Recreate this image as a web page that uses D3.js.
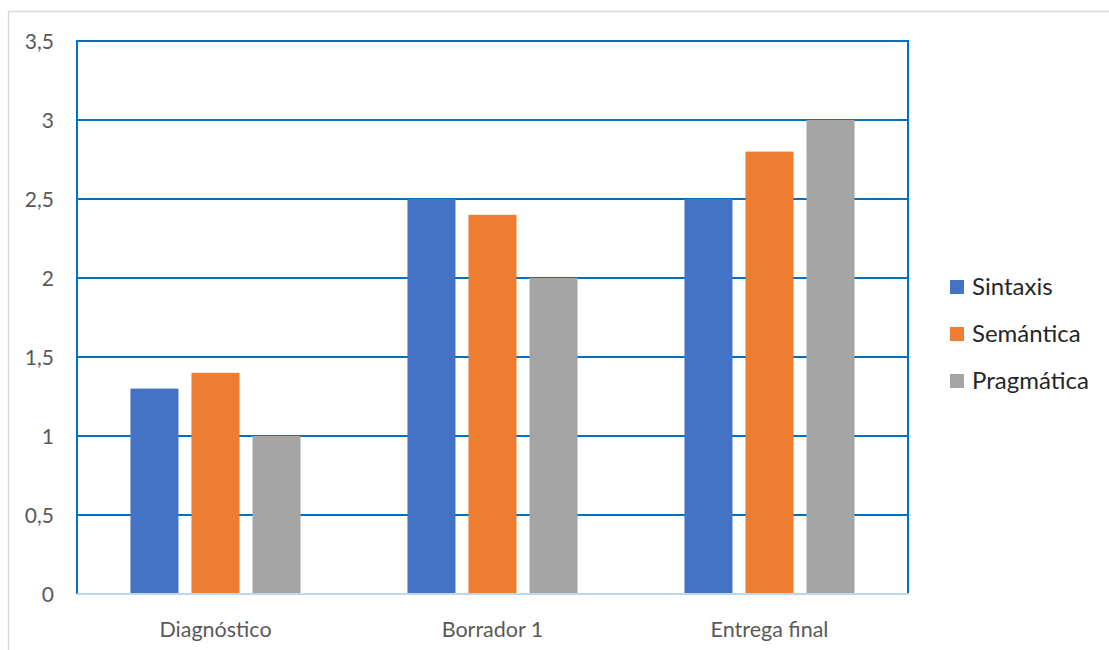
<!DOCTYPE html>
<html><head><meta charset="utf-8">
<script src="https://cdn.jsdelivr.net/npm/d3@7"></script>
<style>body{margin:0;background:#fff;} svg{display:block;font-family:Lato,"Open Sans",sans-serif;}</style>
</head><body>
<svg id="c" width="1109" height="650"></svg>
<script>
const categories = ["Diagnóstico", "Borrador 1", "Entrega final"];
const seriesNames = ["Sintaxis", "Semántica", "Pragmática"];
const sintaxis = [1.3, 2.5, 2.5];
const semantica = [1.4, 2.4, 2.8];
const pragmatica = [1.0, 2.0, 3.0];
const yTicks = [0, 0.5, 1, 1.5, 2, 2.5, 3, 3.5];
const colors = ["#4472C4", "#ED7D31", "#A5A5A5"];

const seriesValues = [sintaxis, semantica, pragmatica];
const svg = d3.select("#c");
const L = 77, R = 908, T = 41, B = 594;

svg.append("rect").attr("x", 8.5).attr("y", 11.5).attr("width", 1120).attr("height", 700)
  .attr("fill", "none").attr("stroke", "#d9d9d9").attr("stroke-width", 1.5);

const x0 = d3.scaleBand().domain(categories).range([L, R]).paddingInner(0).paddingOuter(0);
const bw = x0.bandwidth();
const x1 = d3.scaleBand().domain(seriesNames).range([bw * 0.193, bw * 0.807]).paddingInner(0.213).paddingOuter(0);
const y = d3.scaleLinear().domain([0, 3.5]).range([B, T]);

// gridlines
svg.append("g").selectAll("line").data(yTicks.filter(d => d > 0)).join("line")
  .attr("x1", L).attr("x2", R).attr("y1", d => y(d)).attr("y2", d => y(d))
  .attr("stroke", "#0070C0").attr("stroke-width", 2);

// bars
const groups = svg.append("g").selectAll("g").data(categories).join("g")
  .attr("transform", d => `translate(${x0(d)},0)`);
groups.selectAll("rect").data((c, i) => seriesNames.map((s, j) => ({s, v: seriesValues[j][i], j})))
  .join("rect")
  .attr("x", d => x1(d.s)).attr("width", x1.bandwidth())
  .attr("y", d => y(d.v)).attr("height", d => y(0) - y(d.v))
  .attr("fill", d => colors[d.j]);

// plot border left/right
svg.append("line").attr("x1", L).attr("x2", L).attr("y1", T - 1).attr("y2", B).attr("stroke", "#0070C0").attr("stroke-width", 2);
svg.append("line").attr("x1", R).attr("x2", R).attr("y1", T - 1).attr("y2", B).attr("stroke", "#0070C0").attr("stroke-width", 2);
// bottom axis
svg.append("line").attr("x1", L).attr("x2", R + 1).attr("y1", B).attr("y2", B).attr("stroke", "#BDD7EE").attr("stroke-width", 2);

// y axis labels
const yAxis = d3.axisLeft(y).tickValues(yTicks).tickSize(0).tickPadding(0)
  .tickFormat(d => String(d).replace(".", ","));
const ya = svg.append("g").attr("transform", `translate(54,0)`).call(yAxis);
ya.select(".domain").remove();
ya.selectAll("text").attr("font-size", 21).attr("fill", "#595959").attr("font-family", "Lato").attr("dy", "0.35em");

// x axis labels
const xAxis = d3.axisBottom(x0).tickSize(0).tickPadding(0);
const xa = svg.append("g").attr("transform", `translate(0,${B})`).call(xAxis);
xa.select(".domain").remove();
xa.selectAll("text").attr("font-size", 21.5).attr("fill", "#595959").attr("font-family", "Lato").attr("y", 43).attr("dy", "0");

// legend
const lg = svg.append("g").selectAll("g").data(seriesNames).join("g")
  .attr("transform", (d, i) => `translate(950,${287 + i * 47})`);
lg.append("rect").attr("x", 0).attr("y", -7).attr("width", 14).attr("height", 14).attr("fill", (d, i) => colors[i]);
lg.append("text").attr("x", 22).attr("y", 0).attr("dy", "0.35em").attr("font-size", 24).attr("fill", "#262626").attr("font-family", "Lato").text(d => d);
</script>
</body></html>
